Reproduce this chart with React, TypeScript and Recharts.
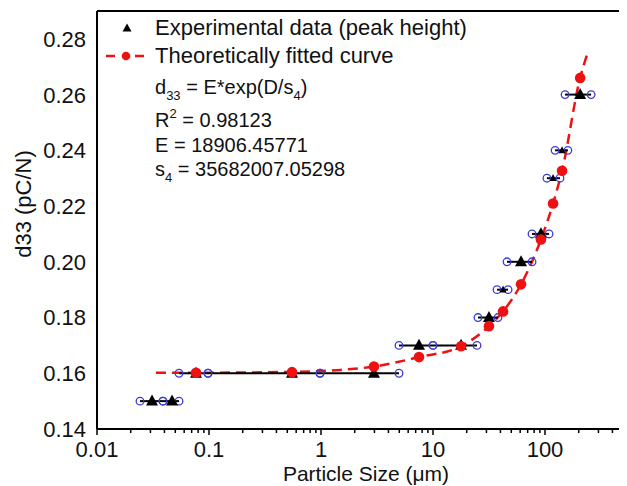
import React from 'react';
import { ComposedChart, XAxis, YAxis, Scatter, Line, ReferenceLine, Legend } from 'recharts';

// Experimental data (peak height) with horizontal ranges
const expX = [0.031, 0.0468, 0.0766, 0.551, 2.97, 7.5, 17.8, 31.6, 42.2, 61.1, 92, 118, 142, 206];
const expY = [0.15, 0.15, 0.16, 0.16, 0.16, 0.17, 0.17, 0.18, 0.19, 0.2, 0.21, 0.23, 0.24, 0.26];
const errLowX = [0.0242, 0.0388, 0.054, 0.098, 0.98, 4.97, 10.0, 25.2, 37.3, 45.8, 76.6, 104, 123, 151];
const errHighX = [0.0388, 0.054, 0.098, 0.98, 4.97, 10.0, 24.7, 38.0, 46.8, 76.6, 108.7, 136, 160, 258];
const smallMarkerIdx = [8, 11, 12];

// Theoretically fitted points
const fitPtX = [0.0766, 0.551, 2.97, 7.5, 17.8, 31.6, 42.2, 61.1, 92, 118, 142, 206];
const fitPtY = [0.1602, 0.1604, 0.1624, 0.1658, 0.1697, 0.1769, 0.1822, 0.1919, 0.208, 0.2209, 0.2327, 0.266];

// Fitted curve (dashed)
const curveX = [0.0336, 0.0766, 0.551, 1.5, 2.97, 7.5, 17.8, 31.6, 42.2, 61.1, 92, 118, 142, 206, 242];
const curveY = [0.1602, 0.1602, 0.1605, 0.1612, 0.1624, 0.1658, 0.1697, 0.1769, 0.1822, 0.1919, 0.208, 0.2209, 0.2327, 0.266, 0.2753];

// Axis ticks
const xMajorTicks = [0.01, 0.1, 1, 10, 100, 1000];
const xMajorLabels = ['0.01', '0.1', '1', '10', '100', ''];
const xMinorMultipliers = [2, 3, 4, 5, 6, 7, 8, 9];
const yTicks = [0.14, 0.16, 0.18, 0.2, 0.22, 0.24, 0.26, 0.28];
const yTickLabels = ['0.14', '0.16', '0.18', '0.20', '0.22', '0.24', '0.26', '0.28'];

const FONT = '"Liberation Sans", Arial, sans-serif';
const RED = '#ee1111';
const BLUE = '#3b3bd6';

const expMain = expX.map((x, i) => ({ x, y: expY[i] })).filter((_, i) => !smallMarkerIdx.includes(i));
const expSmall = expX.map((x, i) => ({ x, y: expY[i] })).filter((_, i) => smallMarkerIdx.includes(i));
const errBars = expX.map((_, i) => [
  { x: errLowX[i], y: expY[i] },
  { x: errHighX[i], y: expY[i] },
]);
const fitPts = fitPtX.map((x, i) => ({ x, y: fitPtY[i] }));
const curve = curveX.map((x, i) => ({ x, y: curveY[i] }));

const xTicks: number[] = [];
xMajorTicks.forEach((d) => {
  xTicks.push(d);
  if (d < 1000) xMinorMultipliers.forEach((m) => xTicks.push(+(d * m).toPrecision(6)));
});

const triangle = (w: number, h: number) => (props: any) => {
  const { cx, cy } = props;
  if (cx == null || cy == null) return <g />;
  const pts = `${cx},${cy - h * 0.6} ${cx - w / 2},${cy + h * 0.4} ${cx + w / 2},${cy + h * 0.4}`;
  return <polygon points={pts} fill="#000" />;
};

const openCircle = (props: any) => {
  const { cx, cy } = props;
  if (cx == null || cy == null) return <g />;
  return <circle cx={cx} cy={cy} r={3.8} fill="none" stroke={BLUE} strokeWidth={1.3} />;
};

const redDot = (props: any) => {
  const { cx, cy } = props;
  if (cx == null || cy == null) return <g />;
  return <circle cx={cx} cy={cy} r={5.3} fill={RED} />;
};

const XTick = (props: any) => {
  const { x, y, payload } = props;
  const v = payload.value;
  const idx = xMajorTicks.indexOf(v);
  const major = idx >= 0;
  return (
    <g>
      <line x1={x} x2={x} y1={y} y2={y + (major ? 6 : 4)} stroke="#000" strokeWidth={1.5} />
      {major && xMajorLabels[idx] !== '' && (
        <text x={x} y={y + 28} textAnchor="middle" fontSize={22} fontFamily={FONT} fill="#111">
          {xMajorLabels[idx]}
        </text>
      )}
    </g>
  );
};

const YTick = (props: any) => {
  const { x, y, payload } = props;
  const idx = yTicks.findIndex((t) => Math.abs(t - payload.value) < 1e-9);
  return (
    <text x={x - 11} y={y} dy="0.36em" textAnchor="end" fontSize={22} fontFamily={FONT} fill="#111">
      {idx >= 0 ? yTickLabels[idx] : ''}
    </text>
  );
};

const renderLegend = () => (
  <svg width={520} height={190} style={{ display: 'block' }} fontFamily={FONT}>
    <polygon points="119,15.5 114.5,23.5 123.5,23.5" fill="#000" />
    <text x={147} y={27} fontSize={22} fill="#111">Experimental data (peak height)</text>
    <line x1={98} x2={107} y1={48} y2={48} stroke={RED} strokeWidth={2.5} />
    <circle cx={118} cy={48} r={4.3} fill={RED} />
    <line x1={127} x2={136} y1={48} y2={48} stroke={RED} strokeWidth={2.5} />
    <text x={147} y={55} fontSize={22} fill="#111">Theoretically fitted curve</text>
    <text x={147} y={86} fontSize={20} fill="#111">
      d<tspan fontSize={13} dy={6}>33</tspan>
      <tspan dy={-6}> = E*exp(D/s</tspan>
      <tspan fontSize={13} dy={6}>4</tspan>
      <tspan dy={-6}>)</tspan>
    </text>
    <text x={147} y={119} fontSize={20} fill="#111">
      R<tspan fontSize={13} dy={-9}>2</tspan>
      <tspan dy={9}> = 0.98123</tspan>
    </text>
    <text x={147} y={144} fontSize={20} fill="#111">E = 18906.45771</text>
    <text x={147} y={168} fontSize={20} fill="#111">
      s<tspan fontSize={13} dy={6}>4</tspan>
      <tspan dy={-6}> = 35682007.05298</tspan>
    </text>
  </svg>
);

export default function App() {
  return (
    <div style={{ width: 619, height: 478, overflow: 'hidden', position: 'relative', fontFamily: FONT }}>
      <ComposedChart width={650} height={478} margin={{ top: 3, right: 1, bottom: 0, left: 0 }}>
        <XAxis
          dataKey="x"
          type="number"
          scale="log"
          domain={[0.01, 1000]}
          allowDataOverflow
          ticks={xTicks}
          interval={0}
          tick={<XTick />}
          tickLine={false}
          tickSize={0}
          tickMargin={0}
          height={57}
          axisLine={{ stroke: '#000', strokeWidth: 2 }}
          label={{
            content: () => (
              <text x={358} y={473} textAnchor="middle" fontSize={21} fontFamily={FONT} fill="#111">
                Particle Size (μm)
              </text>
            ),
          }}
        />
        <YAxis
          dataKey="y"
          type="number"
          domain={[0.14, 0.29]}
          allowDataOverflow
          ticks={yTicks}
          interval={0}
          tick={<YTick />}
          tickLine={false}
          tickSize={0}
          tickMargin={0}
          width={89}
          axisLine={{ stroke: '#000', strokeWidth: 2 }}
          label={{
            content: () => (
              <text
                x={15}
                y={196}
                transform="rotate(-90 15 196)"
                textAnchor="middle"
                dominantBaseline="central"
                fontSize={22}
                fontFamily={FONT}
                fill="#111"
              >
                d33 (pC/N)
              </text>
            ),
          }}
        />
        <ReferenceLine y={0.29} stroke="#000" strokeWidth={2} ifOverflow="visible" />
        {errBars.map((bar, i) => (
          <Scatter
            key={'err' + i}
            data={bar}
            shape={openCircle}
            line={{ stroke: '#000', strokeWidth: 2 }}
            lineType="joint"
            isAnimationActive={false}
          />
        ))}
        <Scatter data={expMain} shape={triangle(12, 11)} isAnimationActive={false} />
        <Scatter data={expSmall} shape={triangle(7, 7)} isAnimationActive={false} />
        <Line
          data={curve}
          dataKey="y"
          type="monotone"
          stroke={RED}
          strokeWidth={2.5}
          strokeDasharray="10 6"
          dot={false}
          activeDot={false}
          isAnimationActive={false}
        />
        <Scatter data={fitPts} shape={redDot} isAnimationActive={false} />
        <Legend
          content={renderLegend}
          layout="vertical"
          verticalAlign="middle"
          align="center"
          wrapperStyle={{ position: 'absolute', left: 0, top: 0, width: 520, height: 190 }}
        />
      </ComposedChart>
    </div>
  );
}
